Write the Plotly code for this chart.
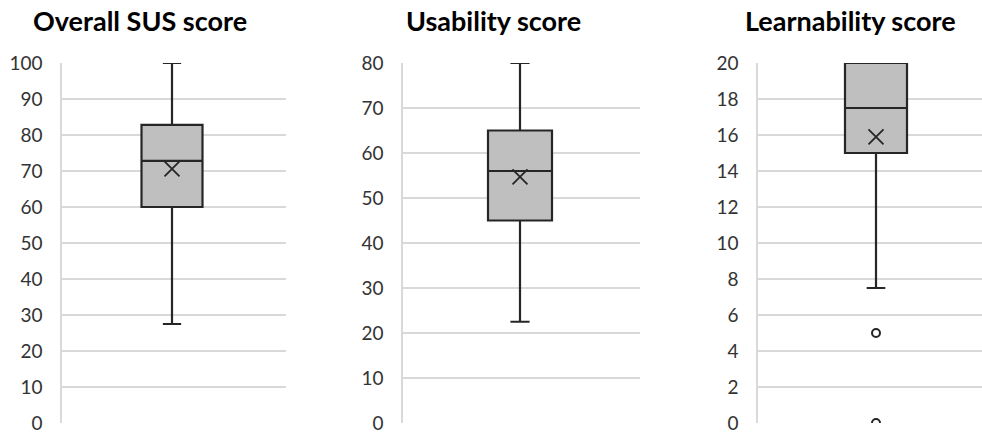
import plotly.graph_objects as go

titles = ["Overall SUS score", "Usability score", "Learnability score"]
q1 = [60, 45, 15]
medians = [72.8, 56, 17.5]
q3 = [82.8, 65, 20]
lower_whisker = [27.5, 22.5, 7.5]
upper_whisker = [100, 80, 20]
means = [70.6, 54.7, 15.9]
outliers = [[], [], [5, 0]]
y_max = [100, 80, 20]
y_dtick = [10, 10, 2]

W, H = 982, 437
FONT = "Lato"
LINE = "#262626"
GRID = "#d9d9d9"
TICK = "#333333"

# layout (pixel geometry)
domains_px = [(62, 286), (403, 640), (758, 982)]
box_center_px = [172, 520, 876]
box_width_px = [61, 64, 62]
title_center_px = [140, 493, 850]
plot_top, plot_bottom = 63, 423
title_mid_px = 21

fig = go.Figure()
layout = dict(
    width=W, height=H,
    margin=dict(l=0, r=0, t=plot_top, b=H - plot_bottom),
    paper_bgcolor="white", plot_bgcolor="white",
    showlegend=False,
    font=dict(family=FONT, color=TICK),
    annotations=[],
)
plot_h = plot_bottom - plot_top

for i in range(3):
    xa = "x" if i == 0 else f"x{i+1}"
    ya = "y" if i == 0 else f"y{i+1}"
    x0, x1 = domains_px[i]
    span = x1 - x0
    cx = (box_center_px[i] - x0) / span
    bw = box_width_px[i] / span
    fig.add_trace(go.Box(
        x=[cx], q1=[q1[i]], median=[medians[i]], q3=[q3[i]],
        lowerfence=[lower_whisker[i]], upperfence=[upper_whisker[i]],
        width=bw, whiskerwidth=0.3,
        fillcolor="#bfbfbf", line=dict(color=LINE, width=2.2),
        boxpoints=False, hoverinfo="skip",
        xaxis=xa, yaxis=ya,
    ))
    fig.add_trace(go.Scatter(
        x=[cx], y=[means[i]], mode="markers",
        marker=dict(symbol="x-thin-open", size=15, color=LINE,
                    line=dict(color=LINE, width=1.8)),
        xaxis=xa, yaxis=ya, hoverinfo="skip",
    ))
    if outliers[i]:
        fig.add_trace(go.Scatter(
            x=[cx] * len(outliers[i]), y=outliers[i], mode="markers",
            marker=dict(symbol="circle-open", size=8, color=LINE,
                        line=dict(color=LINE, width=2)),
            xaxis=xa, yaxis=ya, hoverinfo="skip",
        ))
    xkey = "xaxis" if i == 0 else f"xaxis{i+1}"
    ykey = "yaxis" if i == 0 else f"yaxis{i+1}"
    layout[xkey] = dict(
        domain=[x0 / W, x1 / W], range=[0, 1], anchor=ya,
        showgrid=False, zeroline=False, showticklabels=False, showline=False,
        fixedrange=True,
    )
    layout[ykey] = dict(
        domain=[0, 1], range=[0, y_max[i]], anchor=xa, dtick=y_dtick[i],
        showgrid=True, gridcolor=GRID, gridwidth=1.5,
        zeroline=False, showline=True, linecolor=GRID, linewidth=1.5,
        ticks="", ticklabelstandoff=14,
        tickfont=dict(family=FONT, size=19, color=TICK),
        automargin=False,
    )
    layout["annotations"].append(dict(
        text=f"<b>{titles[i]}</b>", x=title_center_px[i] / W,
        y=1 + (plot_top - title_mid_px) / plot_h,
        xref="paper", yref="paper", xanchor="center", yanchor="middle",
        showarrow=False, font=dict(family=FONT, size=27, color="#000000"),
    ))

fig.update_layout(**layout)
fig.write_html("out.html", config={"displayModeBar": False},
               post_script="document.body.style.margin='0';")
